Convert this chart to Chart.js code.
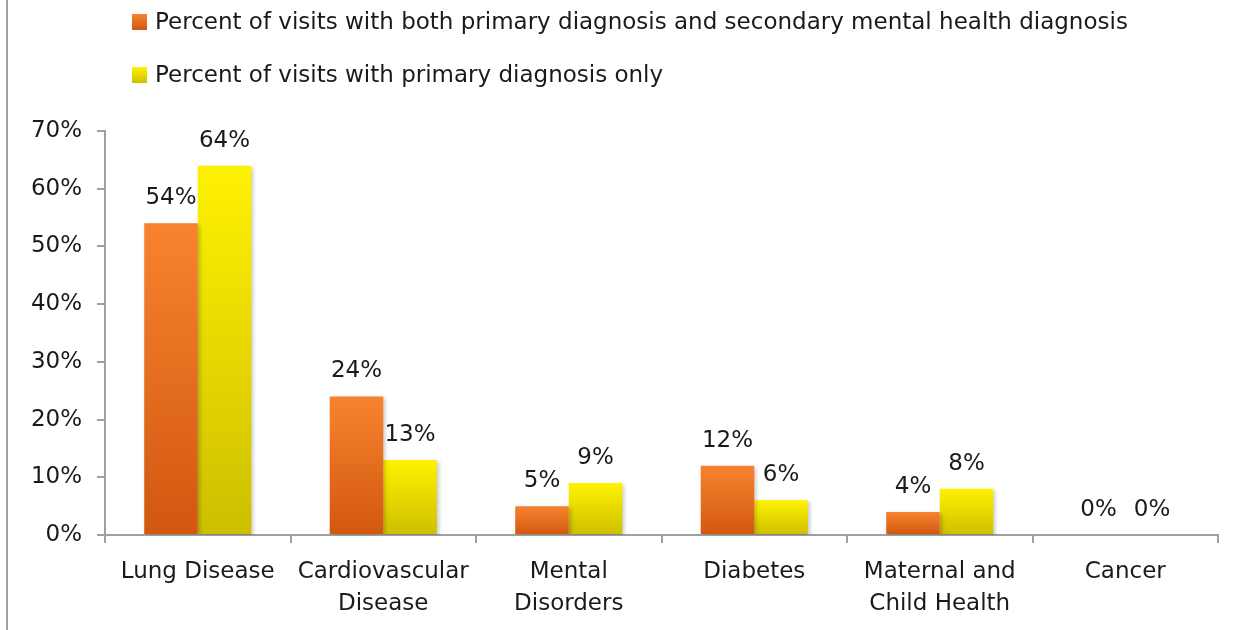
<!DOCTYPE html>
<html>
<head>
<meta charset="utf-8">
<script src="https://cdn.jsdelivr.net/npm/chart.js@4/dist/chart.umd.min.js"></script>
<style>
  html, body { margin: 0; padding: 0; background: #fff; }
  #wrap { width: 1248px; height: 630px; position: relative; }
</style>
</head>
<body>
<div id="wrap"><canvas id="diagChart" width="1248" height="630"></canvas></div>
<script>
const categories = [
  "Lung Disease",
  ["Cardiovascular", "Disease"],
  ["Mental", "Disorders"],
  "Diabetes",
  ["Maternal and", "Child Health"],
  "Cancer"
];
const bothDiag = [54, 24, 5, 12, 4, 0];     // orange
const primaryOnly = [64, 13, 9, 6, 8, 0];   // yellow
const yTicks = [0, 10, 20, 30, 40, 50, 60, 70];
const seriesNames = [
  "Percent of visits with both primary diagnosis and secondary mental health diagnosis",
  "Percent of visits with primary diagnosis only"
];

const FONT = "Tahoma, 'DejaVu Sans', sans-serif";
const FSIZE = 23;
const TEXT = "#1a1a1a";
const AXIS = "#a0a0a0";

// top/bottom colours for each series
const shades = [
  { top: "#f7832f", bottom: "#d2570f" },
  { top: "#fff200", bottom: "#cdbf00" }
];

function barGradient(context) {
  const chart = context.chart;
  const { ctx, chartArea, scales } = chart;
  const shade = shades[context.datasetIndex];
  if (!chartArea || context.type !== "data") return shade.top;
  const top = scales.y.getPixelForValue(context.raw);
  const base = scales.y.getPixelForValue(0);
  if (base - top < 1) return shade.top;
  const g = ctx.createLinearGradient(0, top, 0, base);
  g.addColorStop(0, shade.top);
  g.addColorStop(1, shade.bottom);
  return g;
}

// legend drawn by hand: two stacked rows at the top
const stackedLegend = {
  id: "stackedLegend",
  afterDraw(chart) {
    const ctx = chart.ctx;
    ctx.save();
    // left frame line
    ctx.fillStyle = "#a0a0a0";
    ctx.fillRect(6, 0, 2, 630);
    const rows = [22, 75];
    chart.data.datasets.forEach((ds, i) => {
      const y = rows[i];
      const g = ctx.createLinearGradient(0, y - 8, 0, y + 8);
      g.addColorStop(0, shades[i].top);
      g.addColorStop(1, shades[i].bottom);
      ctx.fillStyle = g;
      ctx.fillRect(132, y - 8, 15, 16);
      ctx.fillStyle = TEXT;
      ctx.font = FSIZE + "px " + FONT;
      ctx.textBaseline = "middle";
      ctx.textAlign = "left";
      ctx.fillText(ds.label, 155, y + 1);
    });
    ctx.restore();
  }
};

// value labels above bars
const valueLabels = {
  id: "valueLabels",
  afterDatasetsDraw(chart) {
    const ctx = chart.ctx;
    ctx.save();
    ctx.fillStyle = TEXT;
    ctx.font = FSIZE + "px " + FONT;
    ctx.textAlign = "center";
    ctx.textBaseline = "alphabetic";
    chart.data.datasets.forEach((ds, i) => {
      chart.getDatasetMeta(i).data.forEach((bar, j) => {
        ctx.fillText(ds.data[j] + "%", bar.x, bar.y - 19);
      });
    });
    ctx.restore();
  }
};

// soft shadow under bars
const barShadow = {
  id: "barShadow",
  beforeDatasetsDraw(chart) {
    const ctx = chart.ctx;
    ctx.save();
    ctx.shadowColor = "rgba(0,0,0,0.22)";
    ctx.shadowBlur = 4;
    ctx.shadowOffsetX = 2;
    ctx.shadowOffsetY = 2;
  },
  afterDatasetsDraw(chart) {
    chart.ctx.restore();
  }
};

new Chart(document.getElementById("diagChart").getContext("2d"), {
  type: "bar",
  data: {
    labels: categories,
    datasets: [
      { label: seriesNames[0], data: bothDiag, backgroundColor: barGradient },
      { label: seriesNames[1], data: primaryOnly, backgroundColor: barGradient }
    ]
  },
  options: {
    responsive: false,
    animation: false,
    events: [],
    devicePixelRatio: 1,
    layout: { padding: { top: 131, right: 30, left: 0, bottom: 0 } },
    datasets: {
      bar: { categoryPercentage: 0.577, barPercentage: 1.0, borderWidth: 0 }
    },
    plugins: {
      legend: { display: false },
      tooltip: { enabled: false }
    },
    scales: {
      x: {
        grid: { display: true, drawOnChartArea: false, offset: true, color: AXIS, lineWidth: 2, tickLength: 8 },
        border: { color: AXIS, width: 2 },
        ticks: { color: TEXT, font: { family: FONT, size: FSIZE, lineHeight: 1.35 }, padding: 14, maxRotation: 0, autoSkip: false },
        afterFit(scale) { scale.height = 95; }
      },
      y: {
        min: 0,
        max: 70,
        afterBuildTicks(scale) { scale.ticks = yTicks.map(v => ({ value: v })); },
        grid: { display: true, drawOnChartArea: false, color: AXIS, lineWidth: 2, tickLength: 8 },
        border: { color: AXIS, width: 2 },
        ticks: {
          color: TEXT,
          font: { family: FONT, size: FSIZE },
          padding: 15,
          callback: v => v + "%"
        },
        afterFit(scale) { scale.width = 105; }
      }
    }
  },
  plugins: [barShadow, valueLabels, stackedLegend]
});
</script>
</body>
</html>
